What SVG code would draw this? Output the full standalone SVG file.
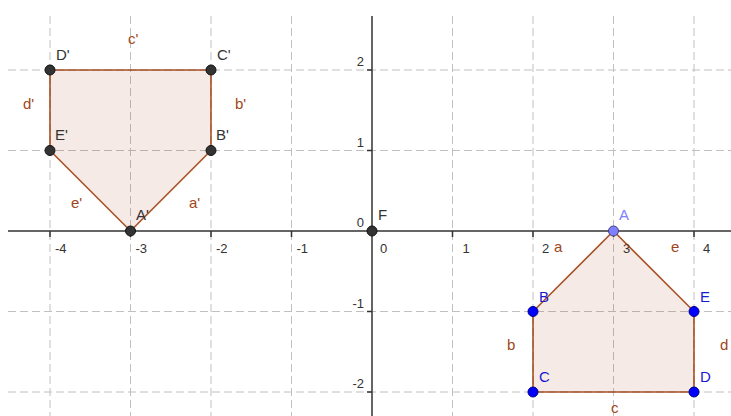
<svg xmlns="http://www.w3.org/2000/svg" width="731" height="416" viewBox="0 0 731 416">
<style>
.grid{stroke:#c0c0c0;stroke-width:1;stroke-dasharray:8,4;fill:none}
.axis{stroke:#333;stroke-width:1.5;fill:none}
.tick{stroke:#333;stroke-width:1.5}
.num{font-family:"Liberation Sans",Arial,sans-serif;font-size:13px;fill:#333}
.poly{fill:#993300;fill-opacity:0.1;stroke:none}
.edge{stroke:#993300;stroke-width:1.6;fill:none;stroke-opacity:0.85}
.seg{font-family:"Liberation Sans",Arial,sans-serif;font-size:15px;fill:#a0461a}
.lbl{font-family:"Liberation Sans",Arial,sans-serif;font-size:15px}
.dk{fill:#333;stroke:#111;stroke-width:1}
.dkt{fill:#333}
.bl{fill:#0000ff;stroke:#00007f;stroke-width:1}
.blt{fill:#1a1ad0}
.lb{fill:#7f7fff;stroke:#3f3f7f;stroke-width:1}
.lbt{fill:#7f7fff}
</style>
<rect width="731" height="416" fill="#fff"/>
<g id="grid">
<path class="grid" d="M50 16V416M130.5 16V416M211 16V416M291.5 16V416M452.5 16V416M533 16V416M613.5 16V416M694 16V416"/>
<path class="grid" d="M8 70H731M8 150.5H731M8 311.5H731M8 392H731"/>
</g>
<g id="axes">
<path class="axis" d="M8 231H731M372 16V416"/>
<path class="tick" d="M50 231v6M130.5 231v6M211 231v6M291.5 231v6M452.5 231v6M533 231v6M613.5 231v6M694 231v6M372 70h-5M372 150.5h-5M372 311.5h-5M372 392h-5"/>
<g class="num">
<text x="55" y="253">-4</text>
<text x="135.5" y="253">-3</text>
<text x="216" y="253">-2</text>
<text x="296.5" y="253">-1</text>
<text x="380" y="253">0</text>
<text x="462.5" y="253">1</text>
<text x="542" y="253">2</text>
<text x="623" y="253">3</text>
<text x="703" y="253">4</text>
<text x="364" y="66" text-anchor="end">2</text>
<text x="364" y="146.5" text-anchor="end">1</text>
<text x="364" y="227" text-anchor="end">0</text>
<text x="364" y="307.5" text-anchor="end">-1</text>
<text x="364" y="388" text-anchor="end">-2</text>
</g>
</g>
<polygon class="poly" points="130.5,231 211,150.5 211,70 50,70 50,150.5"/>
<polygon class="poly" points="613.5,231 533,311.5 533,392 694,392 694,311.5"/>
<g id="connectors">
<path class="edge" d="M130.5 231L211 150.5"/>
<path class="edge" d="M211 150.5L211 70"/>
<path class="edge" d="M211 70L50 70"/>
<path class="edge" d="M50 70L50 150.5"/>
<path class="edge" d="M50 150.5L130.5 231"/>
<path class="edge" d="M613.5 231L533 311.5"/>
<path class="edge" d="M533 311.5L533 392"/>
<path class="edge" d="M533 392L694 392"/>
<path class="edge" d="M694 392L694 311.5"/>
<path class="edge" d="M694 311.5L613.5 231"/>
<g class="seg">
<text x="189" y="208">a'</text>
<text x="235" y="109">b'</text>
<text x="128" y="44">c'</text>
<text x="23" y="109">d'</text>
<text x="71" y="208">e'</text>
<text x="554" y="252">a</text>
<text x="507" y="350">b</text>
<text x="611" y="413">c</text>
<text x="720" y="350">d</text>
<text x="671" y="252">e</text>
</g>
</g>
<g id="nodeAp"><circle class="dk" cx="130.5" cy="231" r="5"/><text class="lbl dkt" x="136" y="220">A'</text></g>
<g id="nodeBp"><circle class="dk" cx="211" cy="150.5" r="5"/><text class="lbl dkt" x="216" y="140">B'</text></g>
<g id="nodeCp"><circle class="dk" cx="211" cy="70" r="5"/><text class="lbl dkt" x="217" y="60">C'</text></g>
<g id="nodeDp"><circle class="dk" cx="50" cy="70" r="5"/><text class="lbl dkt" x="56" y="60">D'</text></g>
<g id="nodeEp"><circle class="dk" cx="50" cy="150.5" r="5"/><text class="lbl dkt" x="55" y="140">E'</text></g>
<g id="nodeF"><circle class="dk" cx="372" cy="231" r="5"/><text class="lbl dkt" x="378" y="220">F</text></g>
<g id="nodeA"><circle class="lb" cx="613.5" cy="231" r="5"/><text class="lbl lbt" x="619" y="220">A</text></g>
<g id="nodeB"><circle class="bl" cx="533" cy="311.5" r="5"/><text class="lbl blt" x="539" y="302">B</text></g>
<g id="nodeC"><circle class="bl" cx="533" cy="392" r="5"/><text class="lbl blt" x="539" y="382">C</text></g>
<g id="nodeD"><circle class="bl" cx="694" cy="392" r="5"/><text class="lbl blt" x="700" y="382">D</text></g>
<g id="nodeE"><circle class="bl" cx="694" cy="311.5" r="5"/><text class="lbl blt" x="700" y="302">E</text></g>
</svg>
